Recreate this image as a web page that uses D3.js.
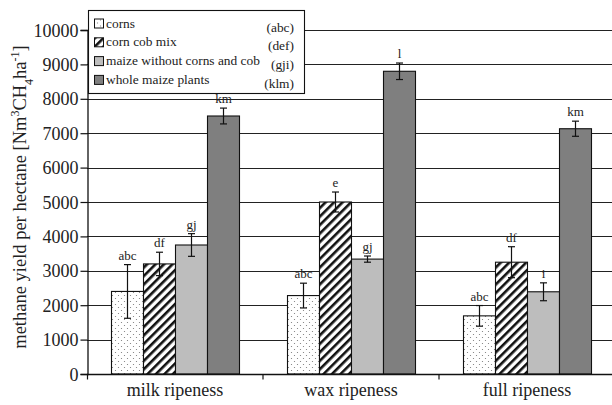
<!DOCTYPE html>
<html>
<head>
<meta charset="utf-8">
<script src="https://cdn.jsdelivr.net/npm/d3@7"></script>
<style>
  html, body { margin: 0; padding: 0; background: #fff; }
  svg { display: block; }
</style>
</head>
<body>
<svg id="chart" width="612" height="405"></svg>
<script>
// Ripeness stages on the x axis
const stages = ["milk ripeness", "wax ripeness", "full ripeness"];
// Maize fractions (legend order) and their significance groups
const fractions = ["corns", "corn cob mix", "maize without corns and cob", "whole maize plants"];
const fractionGroups = ["(abc)", "(def)", "(gji)", "(klm)"];
// Mean methane yield per fraction, one array per stage  [Nm3 CH4 / ha]
const milkYield = [2400, 3200, 3750, 7500];
const waxYield  = [2280, 5000, 3340, 8800];
const fullYield = [1690, 3250, 2390, 7130];
// Standard deviations (error bars)
const milkErr = [780, 340, 330, 230];
const waxErr  = [360, 290, 90, 240];
const fullErr = [300, 450, 260, 220];
// Letters printed above each bar
const milkLetters = ["abc", "df", "gj", "km"];
const waxLetters  = ["abc", "e", "gj", "l"];
const fullLetters = ["abc", "df", "i", "km"];
// Y axis ticks
const yTicks = [0, 1000, 2000, 3000, 4000, 5000, 6000, 7000, 8000, 9000, 10000];

const yields = [milkYield, waxYield, fullYield];
const errs = [milkErr, waxErr, fullErr];
const letters = [milkLetters, waxLetters, fullLetters];

const svg = d3.select("#chart");
const serif = "'Liberation Serif', 'Times New Roman', serif";

const y = d3.scaleLinear().domain([0, 10000]).range([374, 30]);
const x = d3.scaleBand().domain(stages).range([87, 615]).padding(0);
const xi = d3.scaleBand().domain(fractions).range([24, 152]).padding(0);

// Fill patterns
const defs = svg.append("defs");
const dots = defs.append("pattern").attr("id", "dots").attr("patternUnits", "userSpaceOnUse")
  .attr("width", 6).attr("height", 6);
dots.append("rect").attr("width", 6).attr("height", 6).attr("fill", "#fff");
dots.append("circle").attr("cx", 1.5).attr("cy", 1.5).attr("r", 0.6).attr("fill", "#777");
dots.append("circle").attr("cx", 4.5).attr("cy", 4.5).attr("r", 0.6).attr("fill", "#777");

const hatch = defs.append("pattern").attr("id", "hatch").attr("patternUnits", "userSpaceOnUse")
  .attr("width", 6).attr("height", 6).attr("patternTransform", "rotate(45)");
hatch.append("rect").attr("width", 6).attr("height", 6).attr("fill", "#fff");
hatch.append("rect").attr("x", 0).attr("width", 2.6).attr("height", 6).attr("fill", "#111");

const fills = ["url(#dots)", "url(#hatch)", "#bdbdbd", "#7f7f7f"];

// Gridlines
svg.append("g").selectAll("line").data(yTicks.filter(d => d > 0)).join("line")
  .attr("x1", 87).attr("x2", 612)
  .attr("y1", d => Math.round(y(d)) + 0.5).attr("y2", d => Math.round(y(d)) + 0.5)
  .attr("stroke", "#222").attr("stroke-width", 1.1);

// Y axis
const yAxis = svg.append("g").attr("transform", "translate(87.5,0)")
  .call(d3.axisLeft(y).tickValues(yTicks).tickSize(7).tickPadding(2).tickFormat(d3.format("d")));
yAxis.select(".domain").attr("stroke", "#111").attr("stroke-width", 1.3);
yAxis.selectAll(".tick line").attr("stroke", "#111").attr("stroke-width", 1.2);
yAxis.selectAll("text").attr("font-family", serif).attr("font-size", 18)
  .attr("fill", "#222").attr("dy", "0.34em");

// Bars
const groups = svg.append("g").selectAll("g").data(stages).join("g")
  .attr("transform", d => `translate(${x(d)},0)`);

groups.each(function(stage, si) {
  const g = d3.select(this);
  const rows = fractions.map((f, fi) => ({ f, fi, v: yields[si][fi], e: errs[si][fi], l: letters[si][fi] }));
  g.selectAll("rect").data(rows).join("rect")
    .attr("x", d => xi(d.f) + 0.5)
    .attr("width", xi.bandwidth())
    .attr("y", d => y(d.v))
    .attr("height", d => y(0) - y(d.v))
    .attr("fill", d => fills[d.fi])
    .attr("stroke", "#111").attr("stroke-width", 1.1);

  const eb = g.append("g").selectAll("g").data(rows).join("g")
    .attr("transform", d => `translate(${xi(d.f) + xi.bandwidth() / 2 + 0.5},0)`);
  eb.append("line").attr("y1", d => y(d.v + d.e)).attr("y2", d => y(d.v - d.e))
    .attr("stroke", "#111").attr("stroke-width", 1.2);
  eb.append("line").attr("x1", -3.5).attr("x2", 3.5).attr("y1", d => y(d.v + d.e)).attr("y2", d => y(d.v + d.e))
    .attr("stroke", "#111").attr("stroke-width", 1.2);
  eb.append("line").attr("x1", -3.5).attr("x2", 3.5).attr("y1", d => y(d.v - d.e)).attr("y2", d => y(d.v - d.e))
    .attr("stroke", "#111").attr("stroke-width", 1.2);
  eb.append("text").attr("y", d => y(d.v + d.e) - 5)
    .attr("text-anchor", "middle").attr("font-family", serif).attr("font-size", 13).attr("fill", "#222")
    .text(d => d.l);
});

// X axis
const xAxis = svg.append("g").attr("transform", "translate(0,374.5)");
xAxis.append("line").attr("x1", 87).attr("x2", 612).attr("stroke", "#111").attr("stroke-width", 1.3);
xAxis.selectAll("line.tk").data(stages.slice(1)).join("line").attr("class", "tk")
  .attr("x1", d => x(d)).attr("x2", d => x(d)).attr("y1", 0).attr("y2", 5)
  .attr("stroke", "#111").attr("stroke-width", 1.2);
xAxis.append("line").attr("x1", 87.5).attr("x2", 87.5).attr("y1", 0).attr("y2", 5)
  .attr("stroke", "#111").attr("stroke-width", 1.2);
xAxis.selectAll("text").data(stages).join("text")
  .attr("x", d => x(d) + x.bandwidth() / 2).attr("y", 21)
  .attr("text-anchor", "middle").attr("font-family", serif).attr("font-size", 18).attr("fill", "#222")
  .text(d => d);

// Y axis title
const title = svg.append("text")
  .attr("transform", "translate(26,197) rotate(-90)")
  .attr("text-anchor", "middle").attr("font-family", serif).attr("font-size", 18.5).attr("fill", "#222");
title.append("tspan").text("methane yield per hectane [Nm");
title.append("tspan").attr("baseline-shift", "super").attr("font-size", 12).text("3");
title.append("tspan").text("CH");
title.append("tspan").attr("baseline-shift", "sub").attr("font-size", 12).text("4");
title.append("tspan").text("ha");
title.append("tspan").attr("baseline-shift", "super").attr("font-size", 12).text("-1");
title.append("tspan").text("]");

// Legend
const legend = svg.append("g");
legend.append("rect").attr("x", 88.5).attr("y", 10.5).attr("width", 216).attr("height", 83)
  .attr("fill", "#fff").attr("stroke", "#111").attr("stroke-width", 1.1);
const items = legend.selectAll("g.item").data(fractions).join("g").attr("class", "item")
  .attr("transform", (d, i) => `translate(0,${27.5 + i * 18.8})`);
items.append("rect").attr("x", 94.5).attr("y", -8.5).attr("width", 9).attr("height", 9)
  .attr("fill", (d, i) => fills[i]).attr("stroke", "#111").attr("stroke-width", 1);
items.append("text").attr("x", 106).attr("y", 0)
  .attr("font-family", serif).attr("font-size", 13.4).attr("fill", "#222").text(d => d);
items.append("text").attr("x", 294).attr("y", 4).attr("text-anchor", "end")
  .attr("font-family", serif).attr("font-size", 13.4).attr("fill", "#222")
  .text((d, i) => fractionGroups[i]);
</script>
</body>
</html>
